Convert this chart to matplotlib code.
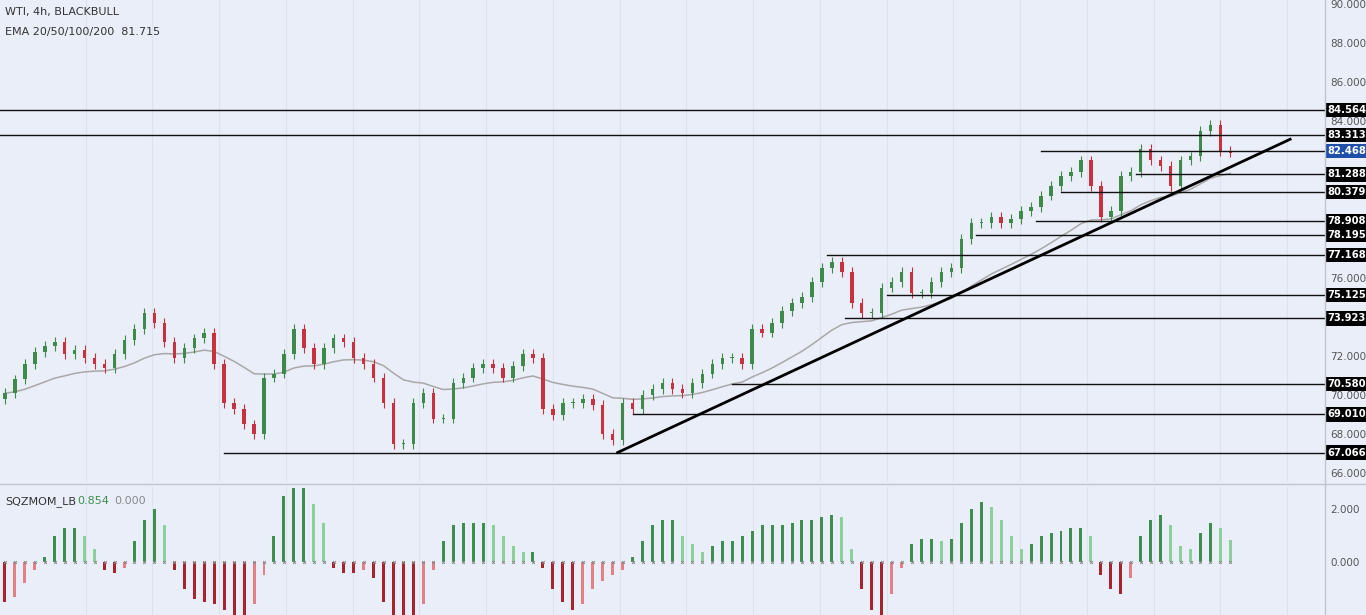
import matplotlib
matplotlib.use("Agg")
import matplotlib.pyplot as plt
import matplotlib.transforms as mtrans
import numpy as np

closes = [70.1,70.8,71.6,72.2,72.5,72.7,72.1,72.3,71.9,71.6,71.4,72.1,72.8,73.4,74.2,73.7,72.7,71.9,72.4,72.9,
          73.2,71.6,69.6,69.3,68.5,68.0,70.9,71.1,72.1,73.4,72.4,71.6,72.4,72.9,72.7,71.9,71.6,70.9,69.6,67.5,
          67.5,69.6,70.1,68.8,68.8,70.6,70.9,71.4,71.6,71.4,70.9,71.5,72.1,71.9,69.3,69.0,69.6,69.6,69.8,69.5,
          68.0,67.7,69.6,69.3,70.0,70.3,70.6,70.3,70.1,70.6,71.1,71.6,71.9,71.9,71.6,73.4,73.2,73.7,74.3,74.7,
          75.0,75.8,76.5,76.8,76.3,74.7,74.2,74.2,75.5,75.8,76.3,75.2,75.2,75.8,76.3,76.5,78.0,78.8,78.8,79.1,
          78.8,79.0,79.4,79.6,80.2,80.7,81.2,81.4,82.0,80.7,79.1,79.4,81.2,81.4,82.6,82.0,81.7,80.7,82.0,82.2,
          83.5,83.8,82.5,82.4]
first_open = 69.8

momentum = [-1.5,-1.3,-0.8,-0.3,0.2,1.0,1.3,1.3,1.0,0.5,-0.3,-0.4,-0.2,0.8,1.6,2.0,1.4,-0.3,-1.0,-1.4,
            -1.5,-1.6,-1.8,-2.0,-2.0,-1.6,-0.5,1.0,2.5,2.8,2.8,2.2,1.5,-0.2,-0.4,-0.4,-0.3,-0.6,-1.5,-2.0,
            -2.0,-2.0,-1.6,-0.3,0.8,1.4,1.5,1.5,1.5,1.4,1.0,0.6,0.4,0.4,-0.2,-1.0,-1.5,-1.8,-1.6,-1.0,
            -0.7,-0.5,-0.3,0.2,0.8,1.4,1.6,1.6,1.0,0.7,0.4,0.6,0.8,0.8,1.0,1.2,1.4,1.4,1.4,1.5,
            1.6,1.6,1.7,1.8,1.7,0.5,-1.0,-1.8,-2.0,-1.2,-0.2,0.7,0.9,0.9,0.8,0.9,1.5,2.0,2.3,2.1,
            1.6,1.0,0.5,0.7,1.0,1.1,1.2,1.3,1.3,1.0,-0.5,-1.0,-1.2,-0.6,1.0,1.6,1.8,1.4,0.6,0.5,
            1.1,1.5,1.3,0.854]

levels = [84.564, 83.313, 82.468, 81.288, 80.379, 78.908, 78.195, 77.168, 75.125, 73.923, 70.580, 69.010, 67.066]
level_start = [-1, -1, 104, 113.5, 106, 103.5, 97.5, 82.5, 88.5, 84.3, 73, 63, 22]
price_ticks = [66, 68, 70, 72, 76, 84, 86, 88, 90]
trend_x = [61.5, 129]
trend_y = [67.066, 83.08]

bg = "#eaeef8"
fig = plt.figure(figsize=(13.66, 6.15), dpi=100, facecolor=bg)
ax = fig.add_axes([0, 0.216, 1325/1366, 0.784])
ax2 = fig.add_axes([0, 0.0, 1325/1366, 0.208])
for a in (ax, ax2):
    a.set_facecolor(bg)
    for s in a.spines.values():
        s.set_visible(False)
    a.set_xlim(-0.5, 132.5)
    for gx in np.arange(8.1, 132, 6.7):
        a.axvline(gx, color="#dde2ee", lw=0.8, zorder=0)
    a.set_xticks([])
    a.yaxis.tick_right()
    a.tick_params(axis="y", length=0, pad=4, labelsize=7.5, labelcolor="#555555")

n = len(closes)
opens = [first_open] + closes[:-1]
for i in range(n):
    o, c = opens[i], closes[i]
    col = "#3d8a4a" if c >= o else "#c8323f"
    ax.vlines(i, min(o, c) - 0.25, max(o, c) + 0.25, color=col, lw=0.8, zorder=3)
    ax.bar(i, max(abs(c - o), 0.05), bottom=min(o, c), width=0.35, color=col, zorder=3)

ema = np.zeros(n)
ema[0] = closes[0]
k = 2 / (20 + 1)
for i in range(1, n):
    ema[i] = closes[i] * k + ema[i - 1] * (1 - k)
ax.plot(range(n), ema, color="#a8a8a8", lw=1.1, zorder=2)

ax.set_ylim(65.55, 90.2)
ax.set_yticks(price_ticks)
ax.set_yticklabels([f"{v:.3f}" for v in price_ticks])

tr = mtrans.blended_transform_factory(ax.transAxes, ax.transData)
for lv, st in zip(levels, level_start):
    ax.plot([st, 132.5], [lv, lv], color="#111111", lw=1, zorder=4)
    fc = "#1f4fa8" if lv == 82.468 else "black"
    ax.text(1.002, lv, f"{lv:.3f}", transform=tr, ha="left", va="center", fontsize=7.2, fontweight="bold",
            color="white", zorder=6, clip_on=False,
            bbox=dict(boxstyle="square,pad=0.22", fc=fc, ec="none"))
ax.plot(trend_x, trend_y, color="black", lw=2, zorder=5)

ax.text(0.004, 0.985, "WTI, 4h, BLACKBULL", transform=ax.transAxes, fontsize=8, color="#333333", va="top")
ax.text(0.004, 0.945, "EMA 20/50/100/200  81.715", transform=ax.transAxes, fontsize=8, color="#333333", va="top")
fig.add_artist(plt.Line2D([0, 1], [0.213, 0.213], color="#c0c4cc", lw=1))
fig.add_artist(plt.Line2D([1325/1366, 1325/1366], [0, 1], color="#c0c4cc", lw=1))

cols = []
for i, m in enumerate(momentum):
    prev = momentum[i - 1] if i > 0 else m
    if m >= 0:
        cols.append("#3e8f4f" if m >= prev else "#8ccf98")
    else:
        cols.append("#a9232f" if m <= prev else "#e57f86")
ax2.bar(range(len(momentum)), momentum, width=0.3, color=cols, zorder=3)
ax2.scatter(range(len(momentum)), [0] * len(momentum), s=4, color="#888888", marker="x", lw=0.7, zorder=4)
ax2.set_ylim(-2.0, 2.85)
ax2.set_yticks([0, 2])
ax2.set_yticklabels(["0.000", "2.000"])
ax2.text(0.004, 0.93, "SQZMOM_LB", transform=ax2.transAxes, fontsize=8, color="#333333", va="top")
ax2.text(0.058, 0.93, "0.854", transform=ax2.transAxes, fontsize=8, color="#3e8f4f", va="top")
ax2.text(0.086, 0.93, "0.000", transform=ax2.transAxes, fontsize=8, color="#888888", va="top")

fig.savefig("out.png", dpi=100, facecolor=bg)
